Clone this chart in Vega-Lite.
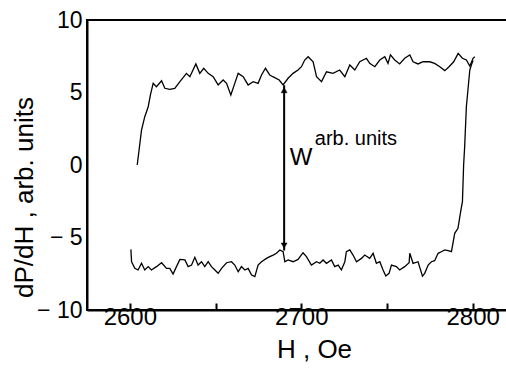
{
  "$schema": "https://vega.github.io/schema/vega-lite/v6.json",
  "autosize": "none",
  "padding": {"left": 87, "top": 20, "right": 0, "bottom": 60},
  "width": 420,
  "height": 290,
  "background": "white",
  "config": {
    "font": "Liberation Sans",
    "view": {"stroke": "black", "strokeWidth": 2}
  },
  "datasets": {
    "curve": [
      {"H": 2600.6, "v": -5.82, "b": "lo"},
      {"H": 2601.0, "v": -6.67, "b": "lo"},
      {"H": 2602.9, "v": -7.13, "b": "lo"},
      {"H": 2604.8, "v": -7.24, "b": "lo"},
      {"H": 2606.8, "v": -6.78, "b": "lo"},
      {"H": 2608.7, "v": -7.24, "b": "lo"},
      {"H": 2610.7, "v": -7.01, "b": "lo"},
      {"H": 2612.6, "v": -7.24, "b": "lo"},
      {"H": 2615.5, "v": -7.01, "b": "lo"},
      {"H": 2618.5, "v": -6.74, "b": "lo"},
      {"H": 2621.4, "v": -7.13, "b": "lo"},
      {"H": 2623.3, "v": -7.13, "b": "lo"},
      {"H": 2625.2, "v": -7.52, "b": "lo"},
      {"H": 2627.2, "v": -7.01, "b": "lo"},
      {"H": 2629.2, "v": -6.51, "b": "lo"},
      {"H": 2632.1, "v": -6.55, "b": "lo"},
      {"H": 2634.0, "v": -7.01, "b": "lo"},
      {"H": 2636.0, "v": -6.90, "b": "lo"},
      {"H": 2637.9, "v": -6.37, "b": "lo"},
      {"H": 2639.8, "v": -6.90, "b": "lo"},
      {"H": 2641.8, "v": -6.67, "b": "lo"},
      {"H": 2643.7, "v": -7.01, "b": "lo"},
      {"H": 2645.7, "v": -6.67, "b": "lo"},
      {"H": 2647.6, "v": -7.01, "b": "lo"},
      {"H": 2649.6, "v": -7.24, "b": "lo"},
      {"H": 2651.5, "v": -7.47, "b": "lo"},
      {"H": 2653.5, "v": -7.13, "b": "lo"},
      {"H": 2656.4, "v": -6.74, "b": "lo"},
      {"H": 2659.3, "v": -6.67, "b": "lo"},
      {"H": 2661.2, "v": -6.90, "b": "lo"},
      {"H": 2663.2, "v": -7.36, "b": "lo"},
      {"H": 2665.1, "v": -7.01, "b": "lo"},
      {"H": 2667.1, "v": -7.24, "b": "lo"},
      {"H": 2669.0, "v": -7.13, "b": "lo"},
      {"H": 2671.0, "v": -7.59, "b": "lo"},
      {"H": 2672.9, "v": -7.70, "b": "lo"},
      {"H": 2674.8, "v": -6.90, "b": "lo"},
      {"H": 2676.8, "v": -6.67, "b": "lo"},
      {"H": 2679.7, "v": -6.44, "b": "lo"},
      {"H": 2681.6, "v": -6.32, "b": "lo"},
      {"H": 2683.6, "v": -6.21, "b": "lo"},
      {"H": 2685.5, "v": -6.09, "b": "lo"},
      {"H": 2687.5, "v": -5.86, "b": "lo"},
      {"H": 2689.4, "v": -5.98, "b": "lo"},
      {"H": 2690.4, "v": -6.67, "b": "lo"},
      {"H": 2692.3, "v": -6.55, "b": "lo"},
      {"H": 2695.2, "v": -6.67, "b": "lo"},
      {"H": 2698.1, "v": -6.51, "b": "lo"},
      {"H": 2701.0, "v": -6.05, "b": "lo"},
      {"H": 2703.0, "v": -6.32, "b": "lo"},
      {"H": 2705.9, "v": -6.90, "b": "lo"},
      {"H": 2708.9, "v": -6.67, "b": "lo"},
      {"H": 2710.8, "v": -6.78, "b": "lo"},
      {"H": 2712.7, "v": -6.55, "b": "lo"},
      {"H": 2714.7, "v": -6.78, "b": "lo"},
      {"H": 2717.6, "v": -6.55, "b": "lo"},
      {"H": 2719.5, "v": -7.01, "b": "lo"},
      {"H": 2721.5, "v": -6.90, "b": "lo"},
      {"H": 2723.4, "v": -7.24, "b": "lo"},
      {"H": 2725.4, "v": -6.67, "b": "lo"},
      {"H": 2726.3, "v": -5.98, "b": "lo"},
      {"H": 2728.3, "v": -5.86, "b": "lo"},
      {"H": 2730.2, "v": -6.21, "b": "lo"},
      {"H": 2732.2, "v": -6.67, "b": "lo"},
      {"H": 2735.1, "v": -6.44, "b": "lo"},
      {"H": 2737.0, "v": -6.21, "b": "lo"},
      {"H": 2739.9, "v": -6.44, "b": "lo"},
      {"H": 2741.9, "v": -6.09, "b": "lo"},
      {"H": 2743.8, "v": -6.78, "b": "lo"},
      {"H": 2745.8, "v": -6.67, "b": "lo"},
      {"H": 2747.7, "v": -7.24, "b": "lo"},
      {"H": 2749.3, "v": -7.66, "b": "lo"},
      {"H": 2751.2, "v": -7.47, "b": "lo"},
      {"H": 2752.6, "v": -6.90, "b": "lo"},
      {"H": 2755.5, "v": -7.01, "b": "lo"},
      {"H": 2757.4, "v": -7.24, "b": "lo"},
      {"H": 2760.3, "v": -7.01, "b": "lo"},
      {"H": 2762.9, "v": -6.74, "b": "lo"},
      {"H": 2763.3, "v": -6.09, "b": "lo"},
      {"H": 2765.2, "v": -6.78, "b": "lo"},
      {"H": 2768.1, "v": -6.67, "b": "lo"},
      {"H": 2770.7, "v": -7.66, "b": "lo"},
      {"H": 2772.0, "v": -7.47, "b": "lo"},
      {"H": 2774.0, "v": -6.90, "b": "lo"},
      {"H": 2775.9, "v": -6.67, "b": "lo"},
      {"H": 2777.8, "v": -6.60, "b": "lo"},
      {"H": 2779.8, "v": -6.09, "b": "lo"},
      {"H": 2781.7, "v": -5.98, "b": "lo"},
      {"H": 2783.7, "v": -5.86, "b": "lo"},
      {"H": 2785.6, "v": -5.91, "b": "lo"},
      {"H": 2787.6, "v": -5.98, "b": "lo"},
      {"H": 2789.5, "v": -4.71, "b": "lo"},
      {"H": 2791.4, "v": -4.37, "b": "lo"},
      {"H": 2792.8, "v": -3.33, "b": "lo"},
      {"H": 2794.0, "v": -2.53, "b": "lo"},
      {"H": 2794.7, "v": 0.0, "b": "lo"},
      {"H": 2795.3, "v": 1.26, "b": "lo"},
      {"H": 2796.3, "v": 4.02, "b": "lo"},
      {"H": 2798.3, "v": 6.55, "b": "lo"},
      {"H": 2799.2, "v": 6.90, "b": "lo"},
      {"H": 2800.2, "v": 7.20, "b": "lo"},
      {"H": 2604.3, "v": 0.0, "b": "up"},
      {"H": 2606.8, "v": 2.41, "b": "up"},
      {"H": 2608.7, "v": 3.33, "b": "up"},
      {"H": 2610.7, "v": 4.02, "b": "up"},
      {"H": 2612.0, "v": 4.83, "b": "up"},
      {"H": 2613.6, "v": 5.63, "b": "up"},
      {"H": 2615.5, "v": 5.40, "b": "up"},
      {"H": 2618.5, "v": 5.81, "b": "up"},
      {"H": 2620.4, "v": 5.29, "b": "up"},
      {"H": 2623.3, "v": 5.22, "b": "up"},
      {"H": 2626.2, "v": 5.29, "b": "up"},
      {"H": 2629.2, "v": 5.75, "b": "up"},
      {"H": 2633.0, "v": 6.32, "b": "up"},
      {"H": 2635.0, "v": 6.09, "b": "up"},
      {"H": 2638.5, "v": 6.97, "b": "up"},
      {"H": 2640.8, "v": 6.32, "b": "up"},
      {"H": 2643.1, "v": 6.67, "b": "up"},
      {"H": 2645.7, "v": 6.32, "b": "up"},
      {"H": 2648.6, "v": 6.09, "b": "up"},
      {"H": 2651.5, "v": 5.52, "b": "up"},
      {"H": 2654.4, "v": 5.86, "b": "up"},
      {"H": 2656.4, "v": 5.63, "b": "up"},
      {"H": 2658.9, "v": 4.83, "b": "up"},
      {"H": 2661.2, "v": 5.63, "b": "up"},
      {"H": 2663.2, "v": 6.32, "b": "up"},
      {"H": 2666.1, "v": 6.09, "b": "up"},
      {"H": 2669.0, "v": 5.52, "b": "up"},
      {"H": 2671.9, "v": 5.75, "b": "up"},
      {"H": 2674.8, "v": 5.63, "b": "up"},
      {"H": 2676.8, "v": 6.21, "b": "up"},
      {"H": 2679.1, "v": 6.67, "b": "up"},
      {"H": 2681.6, "v": 6.21, "b": "up"},
      {"H": 2683.4, "v": 6.09, "b": "up"},
      {"H": 2687.1, "v": 5.86, "b": "up"},
      {"H": 2689.4, "v": 5.52, "b": "up"},
      {"H": 2692.3, "v": 5.98, "b": "up"},
      {"H": 2695.2, "v": 6.32, "b": "up"},
      {"H": 2698.1, "v": 6.55, "b": "up"},
      {"H": 2700.1, "v": 6.78, "b": "up"},
      {"H": 2702.0, "v": 7.24, "b": "up"},
      {"H": 2704.0, "v": 7.47, "b": "up"},
      {"H": 2706.9, "v": 7.12, "b": "up"},
      {"H": 2708.9, "v": 6.09, "b": "up"},
      {"H": 2711.8, "v": 5.75, "b": "up"},
      {"H": 2714.7, "v": 6.43, "b": "up"},
      {"H": 2718.5, "v": 6.32, "b": "up"},
      {"H": 2722.4, "v": 6.55, "b": "up"},
      {"H": 2725.4, "v": 6.09, "b": "up"},
      {"H": 2728.3, "v": 6.90, "b": "up"},
      {"H": 2731.2, "v": 6.55, "b": "up"},
      {"H": 2734.1, "v": 7.12, "b": "up"},
      {"H": 2738.0, "v": 7.36, "b": "up"},
      {"H": 2739.9, "v": 7.01, "b": "up"},
      {"H": 2742.9, "v": 6.78, "b": "up"},
      {"H": 2745.8, "v": 7.24, "b": "up"},
      {"H": 2748.7, "v": 7.47, "b": "up"},
      {"H": 2750.6, "v": 7.01, "b": "up"},
      {"H": 2752.0, "v": 7.59, "b": "up"},
      {"H": 2754.5, "v": 7.24, "b": "up"},
      {"H": 2757.4, "v": 6.97, "b": "up"},
      {"H": 2760.3, "v": 7.36, "b": "up"},
      {"H": 2763.3, "v": 7.59, "b": "up"},
      {"H": 2765.2, "v": 7.12, "b": "up"},
      {"H": 2768.1, "v": 6.97, "b": "up"},
      {"H": 2771.0, "v": 7.12, "b": "up"},
      {"H": 2774.9, "v": 7.12, "b": "up"},
      {"H": 2777.8, "v": 7.01, "b": "up"},
      {"H": 2780.8, "v": 6.78, "b": "up"},
      {"H": 2783.7, "v": 6.51, "b": "up"},
      {"H": 2786.2, "v": 6.78, "b": "up"},
      {"H": 2788.9, "v": 7.12, "b": "up"},
      {"H": 2791.5, "v": 7.70, "b": "up"},
      {"H": 2794.0, "v": 7.36, "b": "up"},
      {"H": 2796.3, "v": 7.24, "b": "up"},
      {"H": 2798.3, "v": 6.83, "b": "up"},
      {"H": 2800.2, "v": 7.36, "b": "up"},
      {"H": 2801.2, "v": 7.47, "b": "up"}
    ],
    "arrow": [{"H": 2690, "lo": -5.9, "hi": 5.5}],
    "heads": [
      {"H": 2690, "v": 5.5, "dir": "up"},
      {"H": 2690, "v": -5.9, "dir": "down"}
    ],
    "labels": [
      {"H": 2693.3, "v": 0.0, "t": "W", "k": "main"},
      {"H": 2707.9, "v": 1.38, "t": "arb. units", "k": "sup"}
    ]
  },
  "layer": [
    {
      "data": {"name": "curve"},
      "mark": {"type": "line", "color": "black", "strokeWidth": 1.3},
      "encoding": {
        "x": {
          "field": "H", "type": "quantitative",
          "scale": {"domain": [2575, 2820], "nice": false, "zero": false},
          "axis": {
            "title": "H , Oe",
            "values": [2600, 2650, 2700, 2750, 2800],
            "labelExpr": "datum.value % 100 === 0 ? datum.label : ''",
            "format": "d",
            "grid": false,
            "domainColor": "black", "domainWidth": 2,
            "tickColor": "black", "tickWidth": 2, "tickSize": -7,
            "labelFontSize": 24, "labelColor": "black", "labelPadding": 2,
            "labelFont": "Liberation Sans",
            "titleFontSize": 26, "titleFontWeight": "normal", "titleColor": "black",
            "titleFont": "Liberation Sans",
            "titleX": 227, "titleY": 39, "titleBaseline": "middle"
          }
        },
        "y": {
          "field": "v", "type": "quantitative",
          "scale": {"domain": [-10, 10], "nice": false},
          "axis": {
            "title": "dP/dH , arb. units",
            "values": [-10, -5, 0, 5, 10],
            "labelExpr": "datum.value < 0 ? '\u2212 ' + (-datum.value) : datum.label",
            "grid": false, "ticks": false,
            "domainColor": "black", "domainWidth": 2,
            "labelFontSize": 23, "labelColor": "black", "labelPadding": 5,
            "labelFont": "Liberation Sans",
            "titleFontSize": 26, "titleFontWeight": "normal", "titleColor": "black",
            "titleFont": "Liberation Sans",
            "titleX": -63, "titleY": 177, "titleBaseline": "middle"
          }
        },
        "detail": {"field": "b"}
      }
    },
    {
      "data": {"name": "arrow"},
      "mark": {"type": "rule", "color": "black", "strokeWidth": 2},
      "encoding": {
        "x": {"field": "H", "type": "quantitative"},
        "y": {"field": "lo", "type": "quantitative"},
        "y2": {"field": "hi"}
      }
    },
    {
      "data": {"name": "heads"},
      "transform": [{"filter": "datum.dir === 'up'"}],
      "mark": {"type": "point", "shape": "triangle-up", "filled": true, "fill": "black", "stroke": "black", "strokeWidth": 0.5, "size": 35, "yOffset": 5, "opacity": 1},
      "encoding": {
        "x": {"field": "H", "type": "quantitative"},
        "y": {"field": "v", "type": "quantitative"}
      }
    },
    {
      "data": {"name": "heads"},
      "transform": [{"filter": "datum.dir === 'down'"}],
      "mark": {"type": "point", "shape": "triangle-down", "filled": true, "fill": "black", "stroke": "black", "strokeWidth": 0.5, "size": 35, "yOffset": -5, "opacity": 1},
      "encoding": {
        "x": {"field": "H", "type": "quantitative"},
        "y": {"field": "v", "type": "quantitative"}
      }
    },
    {
      "data": {"name": "labels"},
      "transform": [{"filter": "datum.k === 'main'"}],
      "mark": {"type": "text", "align": "left", "baseline": "alphabetic", "fontSize": 24, "font": "Liberation Sans", "color": "black"},
      "encoding": {
        "x": {"field": "H", "type": "quantitative"},
        "y": {"field": "v", "type": "quantitative"},
        "text": {"field": "t"}
      }
    },
    {
      "data": {"name": "labels"},
      "transform": [{"filter": "datum.k === 'sup'"}],
      "mark": {"type": "text", "align": "left", "baseline": "alphabetic", "fontSize": 20, "font": "Liberation Sans", "color": "black"},
      "encoding": {
        "x": {"field": "H", "type": "quantitative"},
        "y": {"field": "v", "type": "quantitative"},
        "text": {"field": "t"}
      }
    }
  ]
}
